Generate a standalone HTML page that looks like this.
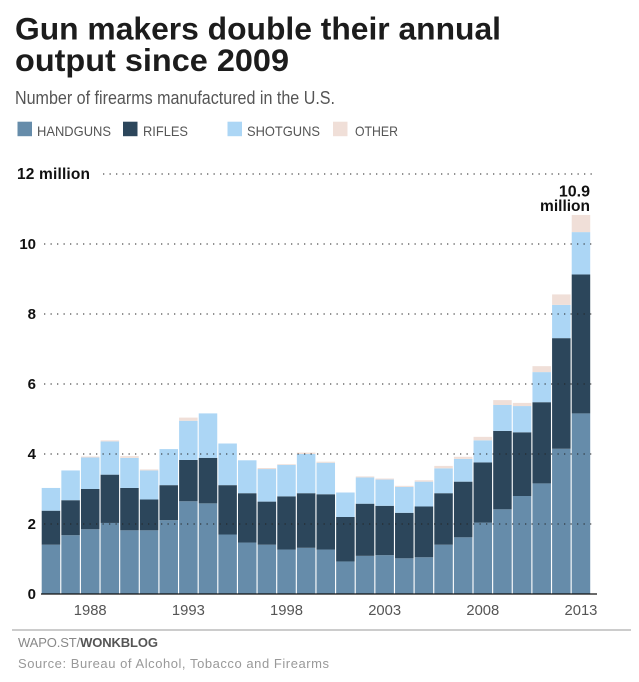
<!DOCTYPE html>
<html>
<head>
<meta charset="utf-8">
<style>
html,body{margin:0;padding:0;background:#fff;width:639px;height:682px;overflow:hidden}
svg{display:block}
text{font-family:"Liberation Sans",sans-serif}
</style>
</head>
<body>
<svg id="chart" width="639" height="682" viewBox="0 0 639 682" xmlns="http://www.w3.org/2000/svg">
<text x="15" y="39.5" font-size="31.5" font-weight="bold" fill="#1c1c1c" textLength="486" lengthAdjust="spacingAndGlyphs">Gun makers double their annual</text>
<text x="15" y="71" font-size="31.5" font-weight="bold" fill="#1c1c1c" textLength="274" lengthAdjust="spacingAndGlyphs">output since 2009</text>
<text x="15" y="104" font-size="18" fill="#555" textLength="320" lengthAdjust="spacingAndGlyphs">Number of firearms manufactured in the U.S.</text>
<g>
<rect x="17.5" y="121.7" width="14.5" height="14.5" fill="#668caa"/>
<text x="37" y="136" font-size="14" fill="#555" textLength="74" lengthAdjust="spacingAndGlyphs">HANDGUNS</text>
<rect x="123" y="121.7" width="14.5" height="14.5" fill="#2c465b"/>
<text x="143" y="136" font-size="14" fill="#555" textLength="45" lengthAdjust="spacingAndGlyphs">RIFLES</text>
<rect x="227.5" y="121.7" width="14.5" height="14.5" fill="#acd6f5"/>
<text x="247" y="136" font-size="14" fill="#555" textLength="73" lengthAdjust="spacingAndGlyphs">SHOTGUNS</text>
<rect x="333" y="121.7" width="14.5" height="14.5" fill="#f0dfd8"/>
<text x="355" y="136" font-size="14" fill="#555" textLength="43" lengthAdjust="spacingAndGlyphs">OTHER</text>
</g>
<g id="bars"></g>
<g id="grid"></g>
<g id="yticks"></g>
<g id="xticks"></g>
<line x1="41" x2="597" y1="594" y2="594" stroke="#111" stroke-width="1.2"/>
<text font-weight="bold" fill="#111" text-anchor="end"><tspan x="590" y="196.5" font-size="16">10.9</tspan><tspan x="590" y="211" font-size="15.5">million</tspan></text>
<line x1="12" x2="631" y1="630" y2="630" stroke="#999" stroke-width="1"/>
<text x="18" y="647" font-size="13" fill="#888" textLength="140" lengthAdjust="spacing">WAPO.ST/<tspan font-weight="bold" fill="#555">WONKBLOG</tspan></text>
<text x="18" y="668" font-size="13" fill="#999" textLength="311" lengthAdjust="spacing">Source: Bureau of Alcohol, Tobacco and Firearms</text>
</svg>
<script>
const years = [1986,1987,1988,1989,1990,1991,1992,1993,1994,1995,1996,1997,1998,1999,2000,2001,2002,2003,2004,2005,2006,2007,2008,2009,2010,2011,2012,2013];
const handguns = [1.41,1.68,1.85,2.03,1.82,1.82,2.11,2.65,2.59,1.70,1.47,1.41,1.27,1.32,1.27,0.93,1.09,1.11,1.02,1.05,1.41,1.62,2.04,2.42,2.80,3.16,4.15,5.16];
const rifles = [0.97,1.00,1.15,1.38,1.21,0.88,1.00,1.18,1.30,1.41,1.41,1.23,1.52,1.56,1.58,1.27,1.49,1.41,1.30,1.45,1.47,1.59,1.72,2.24,1.82,2.32,3.16,3.97];
const shotguns = [0.65,0.85,0.90,0.95,0.86,0.83,1.03,1.12,1.27,1.19,0.94,0.93,0.90,1.12,0.90,0.70,0.75,0.75,0.74,0.71,0.71,0.65,0.63,0.74,0.75,0.86,0.95,1.21];
const other = [0,0,0.03,0.03,0.05,0.03,0,0.09,0,0,0,0.03,0.02,0.04,0.03,0,0.03,0.03,0.03,0.04,0.07,0.06,0.10,0.14,0.09,0.17,0.30,0.49];
const yTicks = [0,2,4,6,8,10,12];
const xTickYears = [1988,1993,1998,2003,2008,2013];

const NS = 'http://www.w3.org/2000/svg';
const yScale = v => 594 - v * 35;
const xScale = yr => 41.7 + (yr - years[0]) * 19.63;
const barWidth = 18.5;

const barsGroup = document.getElementById('bars');
const seriesList = [
  {key: 'handguns', values: handguns, color: '#668caa'},
  {key: 'rifles', values: rifles, color: '#2c465b'},
  {key: 'shotguns', values: shotguns, color: '#acd6f5'},
  {key: 'other', values: other, color: '#f0dfd8'}
];
years.forEach((yr, i) => {
  let base = 0;
  seriesList.forEach(s => {
    const v = s.values[i];
    if (v > 0) {
      const r = document.createElementNS(NS, 'rect');
      
      
      r.setAttribute('x', xScale(yr));
      r.setAttribute('y', yScale(base + v));
      r.setAttribute('width', barWidth);
      r.setAttribute('height', yScale(base) - yScale(base + v));
      r.setAttribute('fill', s.color);
      barsGroup.appendChild(r);
    }
    base += v;
  });
});

const gridGroup = document.getElementById('grid');
const yGroup = document.getElementById('yticks');
yTicks.forEach(t => {
  const isTop = t === yTicks[yTicks.length - 1];
  if (t > 0) {
    const l = document.createElementNS(NS, 'line');
    
    
    l.setAttribute('x1', isTop ? 103 : 44);
    l.setAttribute('x2', 592);
    l.setAttribute('y1', yScale(t));
    l.setAttribute('y2', yScale(t));
    l.setAttribute('stroke', '#222');
    l.setAttribute('stroke-width', '1');
    l.setAttribute('stroke-dasharray', '1.3 5.2');
    gridGroup.appendChild(l);
  }
  const txt = document.createElementNS(NS, 'text');
  
  
  txt.setAttribute('y', yScale(t) + 5.2);
  txt.setAttribute('font-weight', 'bold');
  txt.setAttribute('fill', '#111');
  if (isTop) {
    txt.setAttribute('x', 17);
    txt.setAttribute('font-size', '15.5');
    txt.setAttribute('textLength', '73');
    txt.textContent = t + ' million';
  } else {
    txt.setAttribute('x', 36);
    txt.setAttribute('text-anchor', 'end');
    txt.setAttribute('font-size', '15');
    txt.textContent = t;
  }
  yGroup.appendChild(txt);
});

const xGroup = document.getElementById('xticks');
xTickYears.forEach(yr => {
  const txt = document.createElementNS(NS, 'text');
  
  
  txt.setAttribute('x', xScale(yr) + barWidth / 2);
  txt.setAttribute('y', 615);
  txt.setAttribute('text-anchor', 'middle');
  txt.setAttribute('font-size', '14.8');
  txt.setAttribute('fill', '#555');
  txt.textContent = yr;
  xGroup.appendChild(txt);
});
</script>
</body>
</html>
